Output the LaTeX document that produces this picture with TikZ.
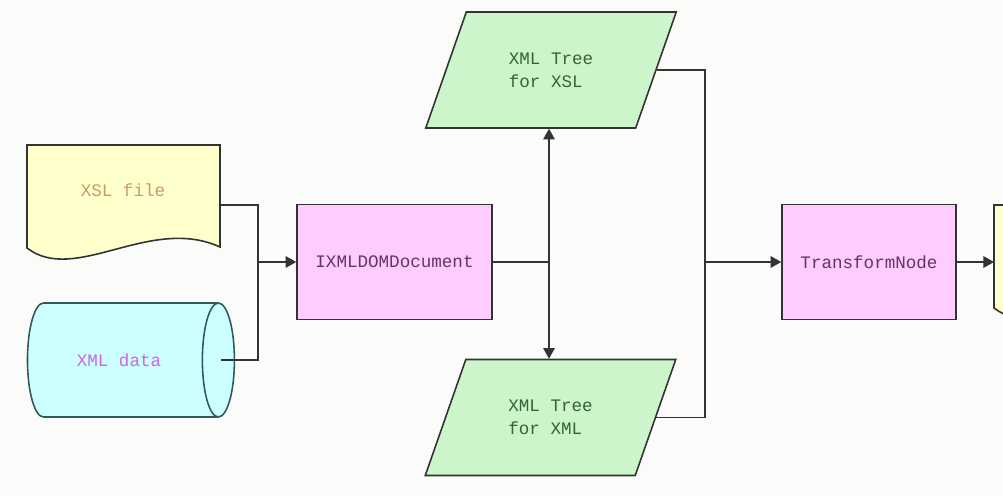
\documentclass[tikz,border=0pt]{standalone}
\usepackage{fontspec}
\setmonofont{Liberation Mono}
\usetikzlibrary{arrows.meta}
\usetikzlibrary{calc}
\usetikzlibrary{shapes.geometric}

\definecolor{paper}{RGB}{251,251,250}
\definecolor{edge}{RGB}{51,51,51}
\definecolor{docfill}{RGB}{255,255,204}
\definecolor{cylfill}{RGB}{204,255,255}
\definecolor{cyledge}{RGB}{51,90,90}
\definecolor{procfill}{RGB}{255,204,255}
\definecolor{datafill}{RGB}{204,245,204}
\definecolor{doctext}{RGB}{204,153,102}
\definecolor{cyltext}{RGB}{204,102,230}
\definecolor{proctext}{RGB}{102,51,102}
\definecolor{datatext}{RGB}{51,102,51}

\tikzset{
  docline/.style={draw=edge, fill=docfill, line width=0.9pt},
  proc/.style={draw=edge, fill=procfill, line width=0.9pt, minimum height=2.3cm, text=proctext},
  iodata/.style={trapezium, trapezium left angle=63.6, trapezium right angle=116.4,
    trapezium stretches=true, draw=edge, fill=datafill, line width=0.9pt,
    minimum width=5.04cm, minimum height=2.32cm, align=left, text=datatext},
  cyl/.style={cylinder, shape border rotate=0, aspect=1.3, draw=cyledge, fill=cylfill,
    line width=0.9pt, minimum height=4.14cm, minimum width=2.28cm, text=cyltext},
  arr/.style={-{Triangle[length=6pt,width=6.5pt]}},
}

\begin{document}
\begin{tikzpicture}[x=0.02cm, y=-0.02cm, line width=0.9pt, draw=edge,
    font=\ttfamily\fontsize{10}{13}\selectfont]
                \clip (0,0) rectangle (1003,496);
                \fill[paper] (0,0) rectangle (1003,496);
                % document shapes
                \filldraw[docline] (27,145) -- (220,145) -- (220,247) .. controls (150,215) and (75,285) .. (27,248) -- cycle;
                \filldraw[docline] (994,205) -- (1187,205) -- (1187,307) .. controls (1117,275) and (1042,345) .. (994,308) -- cycle;
                \node[text=doctext] (xsl) at (123,190) {XSL file};
                \coordinate (xslout) at (220,205);
                \coordinate (result) at (994,262);
                \node[cyl] (xmldata) at (119,360) {XML data};
                \node[proc, minimum width=3.9cm] (dom) at (394.5,262) {IXMLDOMDocument};
                \node[iodata] (treexsl) at (551,70) {XML Tree\\for XSL};
                \node[iodata] (treexml) at (550.5,417.5) {XML Tree\\for XML};
                \node[proc, minimum width=3.48cm] (transform) at (869,262) {TransformNode};
                \coordinate (join1) at (258,262);
                \coordinate (join2) at (549,262);
                \coordinate (join3) at (705,262);
                \draw (xslout) -| (join1);
                \draw ([xshift=-0.28cm]xmldata.east) -| (join1);
                \draw[arr] (join1) -- (dom);
                \draw (dom) -- (join2);
                \draw[arr] (join2) -- (join2 |- treexsl.south);
                \draw[arr] (join2) -- (join2 |- treexml.north);
                \draw (treexsl.east) -| (join3);
                \draw (treexml.east) -| (join3);
                \draw[arr] (join3) -- (transform);
                \draw[arr] (transform) -- (result);
            \end{tikzpicture}
\end{document}
